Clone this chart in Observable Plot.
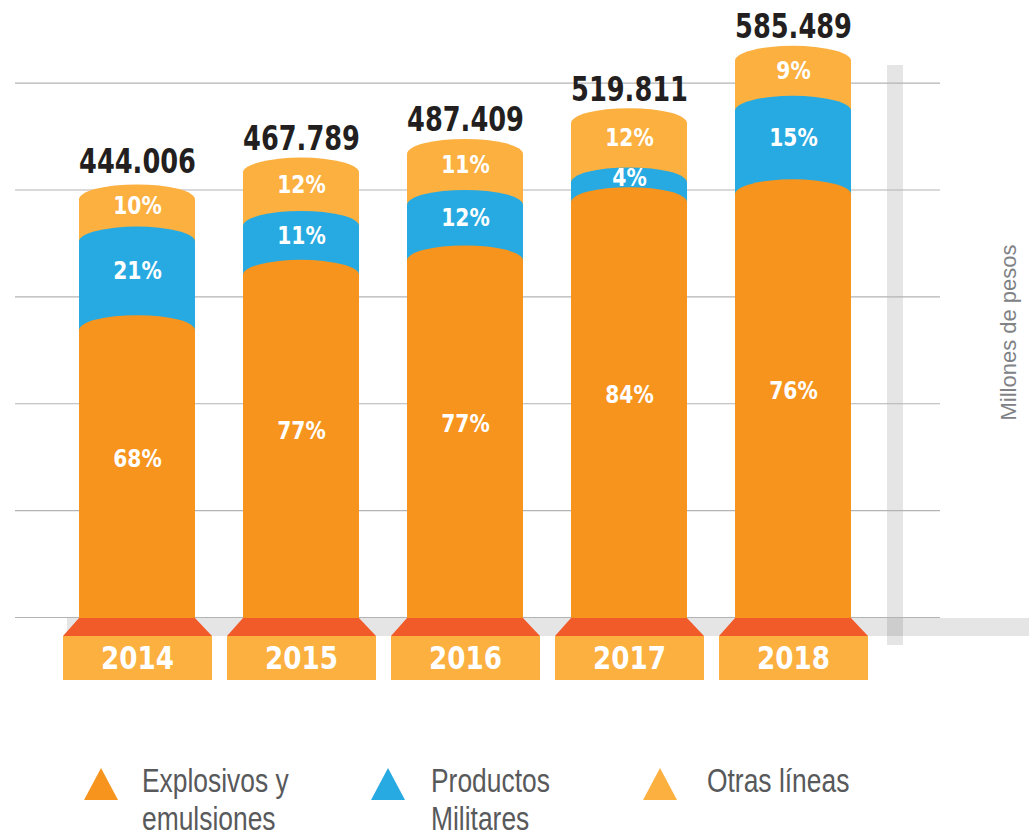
<!DOCTYPE html>
<html>
<head>
<meta charset="utf-8">
<script src="https://cdn.jsdelivr.net/npm/d3@7"></script>
<script src="https://cdn.jsdelivr.net/npm/@observablehq/plot@0.6"></script>
<style>
  body { margin: 0; background: #fff; }
  #chart { position: relative; width: 1029px; height: 839px; overflow: hidden; background: #fff; }
  #legend { position: relative; width: 1029px; height: 139px; }
  .tri { position: absolute; width: 0; height: 0; border-left: 17.5px solid transparent; border-right: 17.5px solid transparent; border-bottom-width: 32px; border-bottom-style: solid; }
  .lab { position: absolute; font-family: 'Liberation Sans', Arial, sans-serif; font-size: 33px; line-height: 38px; color: #58595b; white-space: pre; transform: scaleX(0.8); transform-origin: left top; }
</style>
</head>
<body>
<div id="chart"></div>
<script>
// ---- data ----
const years = ["2014", "2015", "2016", "2017", "2018"];
const totals = [444.006, 467.789, 487.409, 519.811, 585.489];
const totalLabels = ["444.006", "467.789", "487.409", "519.811", "585.489"];
const series = ["Explosivos y emulsiones", "Productos Militares", "Otras líneas"];
const legendLabels = ["Explosivos y\nemulsiones", "Productos\nMilitares", "Otras líneas"];
const pctExplosivos = [68, 77, 77, 84, 76];
const pctMilitares = [21, 11, 12, 4, 15];
const pctOtras = [10, 12, 11, 12, 9];
const axisLabel = "Millones de pesos";
const gridValues = [0, 112.5, 225, 337.5, 450, 562.5];

// ---- styles ----
const seriesColors = ["#F7941E", "#27AAE1", "#FBB040"];
const boxColor = "#FBB040";
const trapColor = "#F15A29";
const condensed = "'DejaVu Sans Condensed', 'DejaVu Sans', sans-serif";

// ---- stacked rows ----
const pcts = [pctExplosivos, pctMilitares, pctOtras];
const rows = [];
years.forEach((yr, i) => {
  let acc = 0;
  series.forEach((s, j) => {
    const v = totals[i] * pcts[j][i] / 100;
    rows.push({year: yr, series: s, pct: pcts[j][i], y1: acc, y2: acc + v, order: j});
    acc += v;
  });
});
const drawRows = rows.slice().sort((a, b) => b.order - a.order);
const cap = 15; // dome height

function grayBands(index, scales, values, dimensions) {
  const {width, marginTop, marginRight} = dimensions;
  const x = scales.x, y0 = scales.y(0);
  const g = d3.create("svg:g");
  const hx = x(years[0]) - 12;
  g.append("rect").attr("x", hx).attr("y", y0 + 1).attr("width", width - hx).attr("height", 18)
    .attr("fill", "#000").attr("fill-opacity", 0.1);
  g.append("rect").attr("x", width - marginRight - 53).attr("y", marginTop + 18).attr("width", 16)
    .attr("height", y0 + 28 - (marginTop + 18)).attr("fill", "#000").attr("fill-opacity", 0.1);
  return g.node();
}

function trapezoids(index, scales) {
  const x = scales.x, y0 = scales.y(0);
  const bw = x.bandwidth();
  const g = d3.create("svg:g");
  for (const yr of years) {
    const x0 = x(yr);
    g.append("polygon")
      .attr("points", [[x0, y0 + 1], [x0 + bw, y0 + 1], [x0 + bw + 17, y0 + 19], [x0 - 16, y0 + 19]].join(" "))
      .attr("fill", trapColor);
  }
  return g.node();
}

const plot = Plot.plot({
  width: 1029,
  height: 700,
  marginLeft: 15,
  marginRight: 89,
  marginTop: 47,
  marginBottom: 83,
  x: {domain: years, paddingInner: 0.294, paddingOuter: 0.463, align: 0.42, axis: null},
  y: {domain: [0, 600], axis: null},
  color: {domain: series, range: seriesColors},
  style: {background: "#fff", overflow: "visible"},
  marks: [
    grayBands,
    Plot.ruleY(gridValues, {stroke: "#b3b3b3", strokeWidth: 1.2}),
    Plot.barY(drawRows, {x: "year", y1: "y1", y2: "y2", fill: "series", rx: 200, ry: cap, insetTop: -cap, insetBottom: -cap}),
    trapezoids,
    Plot.barY(years, {x: d => d, y1: 0, y2: 0, fill: boxColor, insetTop: 19, insetBottom: -63, insetLeft: -16, insetRight: -17}),
    Plot.text(years, {x: d => d, y: 0, text: d => d, dy: 41, fill: "#fff", fontSize: 32, fontWeight: "bold", fontFamily: condensed}),
    Plot.text(rows, {x: "year", y: d => (d.y1 + d.y2) / 2, text: d => d.pct + "%", dy: -cap, fill: "#fff", fontSize: 25, fontWeight: "bold", fontFamily: condensed}),
    Plot.text(years, {x: d => d, y: (d, i) => totals[i], text: (d, i) => totalLabels[i], dy: -34, fill: "#231f20", fontSize: 34, fontWeight: "bold", fontFamily: condensed}),
    Plot.text([axisLabel], {frameAnchor: "right", textAnchor: "middle", dx: 68, rotate: -90, text: d => d, fill: "#808285", fontSize: 22, fontFamily: "'Liberation Sans', Arial, sans-serif"})
  ]
});

// narrow the bold labels horizontally (condensed look)
const squeeze = [0.91, 0.9, 0.84];
d3.select(plot).selectAll("g[aria-label='text']").each(function(d, gi) {
  if (gi >= squeeze.length) return;
  d3.select(this).selectAll("text").each(function() {
    const t = this.getAttribute("transform");
    if (t) this.setAttribute("transform", t + ` scale(${squeeze[gi]},1)`);
  });
});

const chart = document.getElementById("chart");
chart.appendChild(plot);

// ---- legend (below the svg) ----
const legend = document.createElement("div");
legend.id = "legend";
const triLeft = [84, 371, 643];
const textLeft = [142, 431, 707];
series.forEach((s, i) => {
  const t = document.createElement("div");
  t.className = "tri";
  t.style.left = triLeft[i] + "px";
  t.style.top = "68px";
  t.style.borderBottomColor = seriesColors[i];
  legend.appendChild(t);
  const l = document.createElement("div");
  l.className = "lab";
  l.style.left = textLeft[i] + "px";
  l.style.top = "62px";
  l.textContent = legendLabels[i];
  legend.appendChild(l);
});
chart.appendChild(legend);
</script>
</body>
</html>
